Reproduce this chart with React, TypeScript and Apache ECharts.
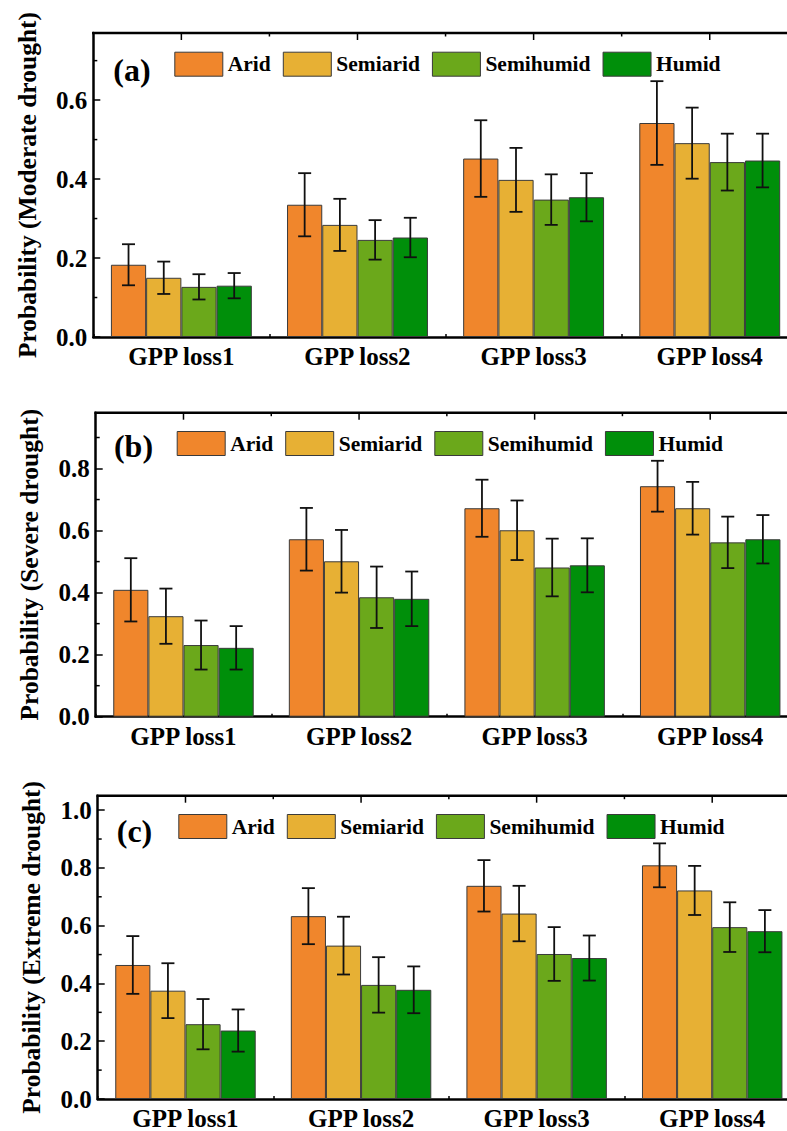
import React, { useEffect, useRef } from 'react';
import * as echarts from 'echarts';

const categories = ['GPP loss1', 'GPP loss2', 'GPP loss3', 'GPP loss4'];
const zones = ['Arid', 'Semiarid', 'Semihumid', 'Humid'];
const zoneColors = ['#F0862C', '#E7B034', '#6BA81B', '#008F0A'];

// rows: climate zone, columns: GPP loss level
const moderateMean = [
  [0.183, 0.335, 0.452, 0.542],
  [0.150, 0.284, 0.398, 0.491],
  [0.127, 0.246, 0.348, 0.443],
  [0.130, 0.252, 0.354, 0.447],
];
const moderateErr = [
  [0.052, 0.080, 0.097, 0.106],
  [0.041, 0.066, 0.081, 0.090],
  [0.032, 0.050, 0.064, 0.072],
  [0.032, 0.050, 0.061, 0.068],
];
const severeMean = [
  [0.409, 0.572, 0.672, 0.743],
  [0.324, 0.501, 0.601, 0.672],
  [0.231, 0.385, 0.481, 0.562],
  [0.222, 0.380, 0.488, 0.572],
];
const severeErr = [
  [0.102, 0.101, 0.092, 0.082],
  [0.089, 0.101, 0.096, 0.085],
  [0.079, 0.099, 0.093, 0.083],
  [0.070, 0.088, 0.087, 0.078],
];
const extremeMean = [
  [0.464, 0.633, 0.738, 0.809],
  [0.375, 0.531, 0.642, 0.722],
  [0.259, 0.395, 0.502, 0.595],
  [0.237, 0.378, 0.488, 0.581],
];
const extremeErr = [
  [0.100, 0.097, 0.089, 0.076],
  [0.095, 0.100, 0.096, 0.085],
  [0.087, 0.096, 0.093, 0.086],
  [0.073, 0.081, 0.078, 0.073],
];

const yTitles = [
  'Probability (Moderate drought)',
  'Probability (Severe drought)',
  'Probability (Extreme drought)',
];
const panelTags = ['(a)', '(b)', '(c)'];
const yMax = [0.77, 0.98, 1.05];
const minorTickValues = [0.1, 0.3, 0.5, 0.7, 0.9];

const FONT = 'Liberation Serif';
const BAR_FRACTION = 0.2;

// plot rectangles of the three stacked panels
const panelRects = [
  { left: 93.3, top: 33, width: 704.5, height: 304 },
  { left: 95.7, top: 412.7, width: 702.3, height: 304 },
  { left: 97.7, top: 795.7, width: 702.3, height: 303.3 },
];
const legendPos = [
  { left: 174.3, top: 51.7 },
  { left: 176.7, top: 431 },
  { left: 178.3, top: 814 },
];
const tagPos = [
  { x: 132, y: 70 },
  { x: 133.5, y: 446 },
  { x: 134.5, y: 831 },
];

const panelMeans = [moderateMean, severeMean, extremeMean];
const panelErrs = [moderateErr, severeErr, extremeErr];

const tickStyle = () => ({ color: '#000', width: 1.5 });
const frameStyle = () => ({ color: '#000', width: 2.5 });

// panel letters, the top edge of each frame with its inward ticks,
// and the minor ticks of the left edge (drawn as thin filled bars)
function frameGraphics() {
  const out: any[] = [];
  const ink = { fill: '#000' };
  panelRects.forEach((r, p) => {
    out.push({
      type: 'text',
      z: 100,
      x: tagPos[p].x,
      y: tagPos[p].y,
      style: {
        text: panelTags[p],
        fill: '#000',
        fontFamily: FONT,
        fontWeight: 'bold',
        fontSize: 32,
        textAlign: 'center',
        textVerticalAlign: 'middle',
      },
    });
    out.push({
      type: 'rect',
      z: 100,
      silent: true,
      shape: { x: r.left - 1.25, y: r.top - 1.25, width: r.width + 2.5, height: 2.5 },
      style: ink,
    });
    const band = r.width / categories.length;
    categories.forEach((_, i) => {
      const cx = r.left + band * (i + 0.5);
      out.push({
        type: 'rect',
        z: 100,
        silent: true,
        shape: { x: cx - 0.75, y: r.top, width: 1.5, height: 7 },
        style: ink,
      });
      if (i < categories.length - 1) {
        const bx = r.left + band * (i + 1);
        out.push({
          type: 'rect',
          z: 100,
          silent: true,
          shape: { x: bx - 0.75, y: r.top, width: 1.5, height: 3.5 },
          style: ink,
        });
      }
    });
    minorTickValues
      .filter((v) => v < yMax[p])
      .forEach((v) => {
        const y = r.top + r.height * (1 - v / yMax[p]);
        out.push({
          type: 'rect',
          z: 100,
          silent: true,
          shape: { x: r.left, y: y - 0.75, width: 4, height: 1.5 },
          style: ink,
        });
      });
  });
  return out;
}

function buildOption() {
  const grid: any[] = [];
  const xAxis: any[] = [];
  const yAxis: any[] = [];
  const series: any[] = [];
  const legend: any[] = [];

  panelRects.forEach((r, p) => {
    grid.push({
      ...r,
      containLabel: false,
      outerBoundsMode: 'none',
    });

    xAxis.push({
      type: 'category',
      gridIndex: p,
      position: 'bottom',
      data: categories,
      axisLine: { show: true, onZero: false, lineStyle: frameStyle() },
      axisTick: { show: true, inside: true, length: 3, lineStyle: tickStyle() },
      axisLabel: {
        color: '#000',
        fontFamily: FONT,
        fontWeight: 'bold',
        fontSize: 25,
        margin: 7,
      },
      splitLine: { show: false },
    });

    yAxis.push({
      type: 'value',
      gridIndex: p,
      position: 'left',
      min: 0,
      max: yMax[p],
      interval: 0.2,
      name: yTitles[p],
      nameLocation: 'middle',
      nameGap: 53,
      nameTextStyle: {
        color: '#000',
        fontFamily: FONT,
        fontWeight: 'bold',
        fontSize: 25.5,
      },
      axisLine: { show: true, onZero: false, lineStyle: frameStyle() },
      axisTick: { show: true, inside: true, length: 7, lineStyle: tickStyle() },
      axisLabel: {
        color: '#000',
        fontFamily: FONT,
        fontWeight: 'bold',
        fontSize: 25,
        margin: 6,
        showMaxLabel: false,
        formatter: (v: number) => {
          const k = v / 0.2;
          return Math.abs(k - Math.round(k)) < 1e-6 ? v.toFixed(1) : '';
        },
      },
      splitLine: { show: false },
    });

    zones.forEach((zone, k) => {
      series.push({
        type: 'bar',
        name: zone,
        xAxisIndex: p,
        yAxisIndex: p,
        data: panelMeans[p][k],
        barWidth: `${BAR_FRACTION * 100}%`,
        barGap: '0%',
        itemStyle: { color: zoneColors[k], borderColor: '#3a3a3a', borderWidth: 1 },
        z: 2,
      });
      series.push({
        type: 'custom',
        xAxisIndex: p,
        yAxisIndex: p,
        z: 4,
        encode: { x: 0, y: 1 },
        data: panelMeans[p][k].map((m, i) => [i, m, panelErrs[p][k][i]]),
        renderItem: (params: any, api: any) => {
          const ci = api.value(0);
          const m = api.value(1);
          const e = api.value(2);
          const band = api.size([1, 0])[0];
          const off = band * BAR_FRACTION * (k - 1.5);
          const hi = api.coord([ci, m + e]);
          const lo = api.coord([ci, m - e]);
          const x = hi[0] + off;
          const cap = 6.5;
          const style = { stroke: '#111', lineWidth: 1.8 };
          return {
            type: 'group',
            children: [
              { type: 'line', shape: { x1: x, y1: hi[1], x2: x, y2: lo[1] }, style },
              { type: 'line', shape: { x1: x - cap, y1: hi[1], x2: x + cap, y2: hi[1] }, style },
              { type: 'line', shape: { x1: x - cap, y1: lo[1], x2: x + cap, y2: lo[1] }, style },
            ],
          };
        },
      });
    });

    legend.push({
      data: zones,
      left: legendPos[p].left,
      top: legendPos[p].top,
      orient: 'horizontal',
      padding: 0,
      icon: 'rect',
      itemWidth: 48,
      itemHeight: 24,
      itemGap: 12,
      selectedMode: false,
      itemStyle: { borderColor: '#3a3a3a', borderWidth: 1 },
      textStyle: {
        color: '#000',
        fontFamily: FONT,
        fontWeight: 'bold',
        fontSize: 21.5,
      },
    });
  });

  return {
    animation: false,
    backgroundColor: '#fff',
    grid,
    xAxis,
    yAxis,
    series,
    legend,
    graphic: frameGraphics(),
  };
}

export default function App() {
  const ref = useRef<HTMLDivElement>(null);
  useEffect(() => {
    if (!ref.current) return;
    const chart = echarts.init(ref.current, undefined, { renderer: 'svg' });
    chart.setOption(buildOption() as any);
    return () => chart.dispose();
  }, []);
  return (
    <div
      ref={ref}
      style={{ position: 'absolute', left: 0, top: 0, width: 787, height: 1131, background: '#fff' }}
    />
  );
}
